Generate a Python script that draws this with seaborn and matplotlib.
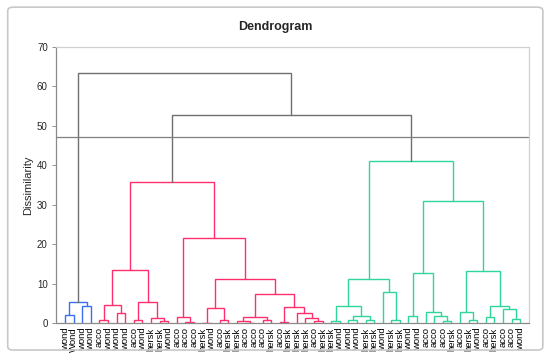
import matplotlib
matplotlib.use("Agg")
import matplotlib.pyplot as plt
import numpy as np
import seaborn as sns
from matplotlib.patches import FancyBboxPatch

leaf_labels = [
    "wond", "Wond", "wond", "wond", "acco", "wond", "wond", "wond", "acco", "wond",
    "hersk", "hersk", "wond", "acco", "acco", "acco", "hersk", "wond", "acco", "hersk",
    "hersk", "acco", "acco", "acco", "hersk", "acco", "hersk", "hersk", "hersk", "acco",
    "hersk", "hersk", "wond", "wond", "wond", "hersk", "hersk", "wond", "hersk", "hersk",
    "wond", "wond", "acco", "acco", "acco", "hersk", "acco", "hersk", "wond", "acco",
    "hersk", "acco", "acco", "wond",
]

# merges in scipy convention: ids < n are leaves, id n+k is merge k
merge_a = [0, 2, 54,
           4, 6, 57, 8, 11, 10, 60, 59, 14, 13, 16, 18, 67, 21, 20, 23, 71, 25, 29, 28, 27, 74,
           73, 69, 66, 64,
           31, 35, 33, 85, 83, 38, 37, 87, 40, 44, 43, 42, 91, 47, 46, 49, 52, 51, 98, 97, 95,
           90, 82, 56]
merge_b = [1, 3, 55,
           5, 7, 58, 9, 12, 61, 62, 63, 15, 65, 17, 19, 68, 22, 70, 24, 72, 26, 30, 75, 76, 77,
           78, 79, 80, 81,
           32, 36, 34, 84, 86, 39, 88, 89, 41, 45, 92, 93, 94, 48, 96, 50, 53, 99, 100, 101, 102,
           103, 104, 105]
merge_h = [2.0, 4.4, 5.4,
           0.8, 2.5, 4.7, 0.9, 0.5, 1.2, 5.3, 13.5, 0.35, 1.45, 0.15, 0.8, 3.9, 0.15, 0.5, 0.75,
           1.5, 0.3, 0.5, 1.2, 2.5, 4.0, 7.3, 11.3, 21.6, 35.8,
           0.6, 0.9, 0.75, 1.8, 4.3, 0.9, 8.0, 11.1, 1.9, 0.5, 1.9, 2.7, 12.8, 0.9, 2.7, 1.6, 1.0,
           3.5, 4.4, 13.3, 31.0, 41.1, 52.8, 63.4]
cut_height = 47.2
cluster_colors = ["#3a6ff0", "#ff2f6e", "#2fd69a"]
above_color = "#707070"

sns.set_theme(style="white")
plt.rcParams["font.family"] = ["Liberation Sans", "DejaVu Sans"]

n = len(leaf_labels)
pos = {i: float(i) for i in range(n)}
height = {i: 0.0 for i in range(n)}
for k, (a, b, h) in enumerate(zip(merge_a, merge_b, merge_h)):
    pos[n + k] = (pos[a] + pos[b]) / 2
    height[n + k] = h

# colour: find cluster roots (merges below cut whose parent is above it)
color = {}
roots = []
for k in range(len(merge_h) - 1, -1, -1):
    node = n + k
    if merge_h[k] > cut_height:
        color[node] = above_color
        for c in (merge_a[k], merge_b[k]):
            if c >= n and merge_h[c - n] <= cut_height:
                roots.append(c)
roots.sort(key=lambda r: pos[r])


def paint(node, col):
    if node < n:
        return
    color[node] = col
    paint(merge_a[node - n], col)
    paint(merge_b[node - n], col)


for i, r in enumerate(roots):
    paint(r, cluster_colors[i])

fig = plt.figure(figsize=(5.5, 3.59), dpi=100)
ax = fig.add_axes([0.102, 0.1, 0.86, 0.769])

for k, (a, b, h) in enumerate(zip(merge_a, merge_b, merge_h)):
    ax.plot([pos[a], pos[a], pos[b], pos[b]], [height[a], h, h, height[b]],
            color=color[n + k], lw=1.0, solid_joinstyle="miter")

ax.axhline(cut_height, color="#808080", lw=0.9)

ax.set_xlim(-1.05, n - 1 + 1.05)
ax.set_ylim(0, 70)
ax.set_yticks(np.arange(0, 71, 10))
ax.set_xticks(np.arange(n))
ax.set_xticklabels(leaf_labels, rotation=90, fontsize=6.8)
ax.tick_params(axis="x", length=0, pad=3, colors="#000000")
ax.tick_params(axis="y", length=3, width=0.6, color="#808080", labelsize=7, pad=3, left=True)
ax.set_ylabel("Dissimilarity", fontsize=8, labelpad=3)
fig.text(0.5, 0.925, "Dendrogram", fontsize=9, fontweight="bold", ha="center", va="center")

for side in ["top", "right"]:
    ax.spines[side].set_color("#d0d0d0")
    ax.spines[side].set_linewidth(0.9)
for side in ["left", "bottom"]:
    ax.spines[side].set_color("#8a8a8a")
    ax.spines[side].set_linewidth(0.9)

fig.patches.append(FancyBboxPatch((0.014, 0.025), 0.973, 0.955,
                                  boxstyle="round,pad=0,rounding_size=0.01",
                                  transform=fig.transFigure, fill=False,
                                  edgecolor="#c8c8c8", lw=1.2))

fig.savefig("out.png", dpi=100)
